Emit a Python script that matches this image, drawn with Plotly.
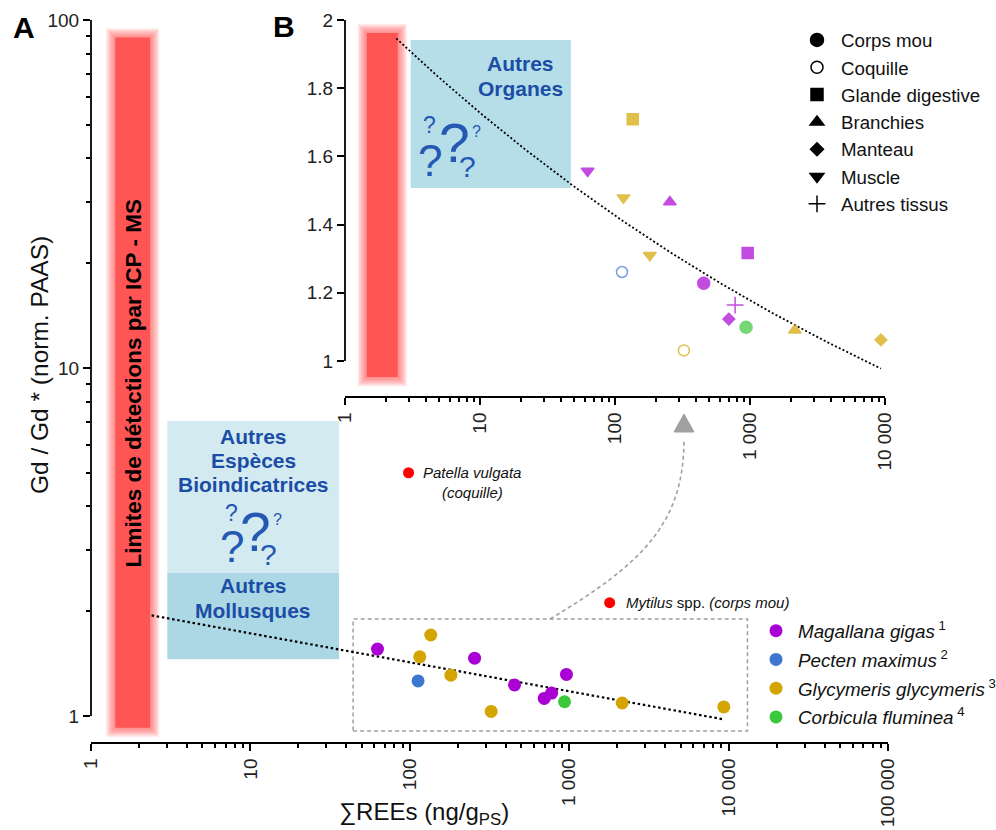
import numpy as np
import plotly.graph_objects as go

FONT = "Liberation Sans, Arial, sans-serif"

# ---------------- data ----------------
ree_total = [62.7, 135.4, 115.5, 112.7, 181, 255, 324, 454, 697, 776, 935, 961, 2150, 9330]
gd_anomaly = [1.557, 1.709, 1.479, 1.261, 1.31, 1.466, 1.031, 1.228, 1.123, 1.164, 1.099, 1.317, 1.09, 1.062]
species = ["Magallana gigas", "Glycymeris glycymeris", "Glycymeris glycymeris", "Pecten maximus",
           "Glycymeris glycymeris", "Magallana gigas", "Glycymeris glycymeris", "Magallana gigas",
           "Magallana gigas", "Magallana gigas", "Corbicula fluminea", "Magallana gigas",
           "Glycymeris glycymeris", "Glycymeris glycymeris"]
tissue = ["Muscle", "Glande digestive", "Muscle", "Coquille", "Muscle", "Branchies", "Coquille",
          "Corps mou", "Manteau", "Autres tissus", "Corps mou", "Glande digestive", "Branchies", "Manteau"]

species_order = ["Magallana gigas", "Pecten maximus", "Glycymeris glycymeris", "Corbicula fluminea"]
species_refs = ["1", "2", "3", "4"]
tissue_order = ["Corps mou", "Coquille", "Glande digestive", "Branchies", "Manteau", "Muscle", "Autres tissus"]

other_names = ["Patella vulgata", "Mytilus spp."]
other_ree = [98.2, 1794]
other_gd = [5.0, 2.116]

xA_ticks = [1, 10, 100, 1000, 10000, 100000]
xA_labels = ["1", "10", "100", "1 000", "10 000", "100 000"]
yA_ticks = [1, 10, 100]
yA_labels = ["1", "10", "100"]
xB_ticks = [1, 10, 100, 1000, 10000]
xB_labels = ["1", "10", "100", "1 000", "10 000"]
yB_ticks = [1, 1.2, 1.4, 1.6, 1.8, 2]
yB_labels = ["1", "1.2", "1.4", "1.6", "1.8", "2"]

# ---------------- styles ----------------
colors = {"Magallana gigas": "#A900D4", "Pecten maximus": "#3C76CF",
          "Glycymeris glycymeris": "#D4A500", "Corbicula fluminea": "#3CC83C"}
tissue_symbol = {"Corps mou": "circle", "Coquille": "circle-open", "Glande digestive": "square",
                 "Branchies": "triangle-up", "Manteau": "diamond", "Muscle": "triangle-down",
                 "Autres tissus": "cross-thin-open"}
tissue_size = {"Corps mou": 12, "Coquille": 11, "Glande digestive": 11, "Branchies": 11,
               "Manteau": 9, "Muscle": 11, "Autres tissus": 12}
legend_size = {"Corps mou": 13, "Coquille": 12, "Glande digestive": 12, "Branchies": 12,
               "Manteau": 10, "Muscle": 12, "Autres tissus": 12}
BOX_TXT = "#1B4DA6"
QM_COL = "#2458B2"

fig = go.Figure()

# trend (power-law fit on the data)
slope, intercept = np.polyfit(np.log10(ree_total), np.log10(gd_anomaly), 1)
tx = np.logspace(np.log10(2.4), np.log10(max(ree_total)), 100)
ty = 10 ** (intercept + slope * np.log10(tx))
fig.add_trace(go.Scatter(x=tx, y=ty, mode="lines", xaxis="x", yaxis="y", showlegend=False, hoverinfo="skip",
                         line=dict(color="black", width=2.2, dash="2.5px,2.7px")))
fig.add_trace(go.Scatter(x=tx, y=ty, mode="lines", xaxis="x2", yaxis="y2", showlegend=False, hoverinfo="skip",
                         line=dict(color="black", width=1.8, dash="2px,2.2px")))

for sp, ref in zip(species_order, species_refs):
    idx = [i for i, s in enumerate(species) if s == sp]
    xs = [ree_total[i] for i in idx]
    ys = [gd_anomaly[i] for i in idx]
    fig.add_trace(go.Scatter(
        x=xs, y=ys, mode="markers", xaxis="x", yaxis="y", cliponaxis=False,
        marker=dict(color=colors[sp], size=13),
        name=f"<i>{sp}</i><sup> {ref}</sup>", legend="legend2", legendgroup=sp))
    fig.add_trace(go.Scatter(
        x=xs, y=ys, mode="markers", xaxis="x2", yaxis="y2", cliponaxis=False, showlegend=False,
        marker=dict(color=colors[sp], symbol=[tissue_symbol[tissue[i]] for i in idx],
                    size=[tissue_size[tissue[i]] for i in idx],
                    line=dict(color=colors[sp], width=1.5))))

fig.add_trace(go.Scatter(x=other_ree, y=other_gd, mode="markers", xaxis="x", yaxis="y",
                         showlegend=False, marker=dict(color="#FF0000", size=11)))

for t in tissue_order:
    fig.add_trace(go.Scatter(
        x=[None], y=[None], mode="markers", xaxis="x2", yaxis="y2", name=t, legend="legend",
        marker=dict(symbol=tissue_symbol[t], color="black", size=legend_size[t],
                    line=dict(color="black", width=1.5))))

# ---------------- decorations ----------------
def soft_bar(x0, x1, y0, y1, xref, yref, gx, gy):
    for k in range(7, 0, -1):
        p = 1.3 * k
        fig.add_shape(type="rect", xref=xref, yref=yref, x0=gx(x0, -p), x1=gx(x1, p),
                      y0=gy(y0, -p), y1=gy(y1, p), fillcolor="rgba(255,85,85,0.13)",
                      line_width=0, layer="below")
    fig.add_shape(type="rect", xref=xref, yref=yref, x0=x0, x1=x1, y0=y0, y1=y1,
                  fillcolor="rgb(255,85,85)", line_width=0, layer="below")

soft_bar(1.42, 2.35, 0.925, 89, "x", "y",
         lambda v, p: v * 10 ** (p / 159.3), lambda v, p: v * 10 ** (p / 348))
soft_bar(1.45, 2.46, 0.953, 1.962, "x2", "y2",
         lambda v, p: v * 10 ** (p / 135.5), lambda v, p: v + p / 341)

# blue boxes
fig.add_shape(type="rect", xref="x", yref="y", x0=3.01, x1=36.0, y0=2.58, y1=7.04,
              fillcolor="#D3EAF1", line_width=0, layer="below")
fig.add_shape(type="rect", xref="x", yref="y", x0=3.01, x1=36.0, y0=1.455, y1=2.58,
              fillcolor="#ABD8E4", line_width=0, layer="below")
fig.add_shape(type="rect", xref="x2", yref="y2", x0=3.07, x1=47.1, y0=1.507, y1=1.941,
              fillcolor="#B5DEE9", line_width=0, layer="below")

# dashed zoom box + arrow
fig.add_shape(type="rect", xref="x", yref="y", x0=44.1, x1=13130, y0=0.906, y1=1.90,
              line=dict(color="#A0A0A0", width=1.5, dash="4px,3px"), fillcolor="rgba(0,0,0,0)",
              layer="below")
fig.add_shape(type="path", xref="paper", yref="paper",
              path="M 0.5522,0.2542 C 0.6426,0.3193 0.6867,0.3675 0.6867,0.4699",
              line=dict(color="#A0A0A0", width=1.6, dash="4px,3px"))
fig.add_shape(type="path", xref="paper", yref="paper",
              path="M 0.6867,0.5012 L 0.6767,0.4795 L 0.6968,0.4795 Z",
              fillcolor="#A0A0A0", line=dict(color="#A0A0A0", width=1))

# axis lines for the y axes (detached from x axes)
fig.add_shape(type="line", xref="x domain", yref="y", x0=0, x1=0, y0=1, y1=100,
              line=dict(color="black", width=1.8))
fig.add_shape(type="line", xref="x2 domain", yref="y2", x0=0, x1=0, y0=1, y1=2,
              line=dict(color="black", width=1.8))

ann = []
def A(text, x, y, size, xref="paper", yref="paper", bold=False, color="black", angle=0,
      xanchor="center", yanchor="middle", xshift=0, yshift=0):
    if bold:
        text = f"<b>{text}</b>"
    ann.append(dict(text=text, x=x, y=y, xref=xref, yref=yref, showarrow=False,
                    font=dict(size=size, color=color, family=FONT), textangle=angle,
                    xanchor=xanchor, yanchor=yanchor, xshift=xshift, yshift=yshift))

A("A", 0.0236, 0.9669, 30, bold=True)
A("B", 0.2856, 0.9678, 30, bold=True)
A("Gd / Gd * (norm. PAAS)", 0.0392, 0.5602, 24.5, angle=-90, color="#111")
A("∑REEs (ng/g<sub>PS</sub>)", 0.4262, 0.0200, 24, color="#111")
A("Limites de détections par ICP - MS", 0.2637, 0.9555, 22.5, xref="x", yref="y", bold=True, angle=-90)

# box labels
for t, yy in [("Autres", 0.8026), ("Espèces", 0.7336), ("Bioindicatrices", 0.6647),
              ("Autres", 0.3744), ("Mollusques", 0.3026)]:
    A(t, 1.017, yy, 21, xref="x", yref="y", bold=True, color=BOX_TXT)
for t, yy in [("Autres", 1.871), ("Organes", 1.7997)]:
    A(t, 1.30, yy, 21, xref="x2", yref="y2", bold=True, color=BOX_TXT)

# question-mark clusters
qm_sizes = [55, 44, 30, 23, 16]
qmA = [(1.0295, 0.5296), (0.8832, 0.4865), (1.1130, 0.4655), (0.8832, 0.5825), (1.1720, 0.5661)]
qmB = [(0.8118, 1.6384), (0.6273, 1.5894), (0.9100, 1.5698), (0.6273, 1.6921), (0.9720, 1.6724)]
for s, (qx, qy) in zip(qm_sizes, qmA):
    A("?", qx, qy, s, xref="x", yref="y", color=QM_COL)
for s, (qx, qy) in zip(qm_sizes, qmB):
    A("?", qx, qy, s, xref="x2", yref="y2", color=QM_COL)

# labels of the other species
A("<i>Patella vulgata</i>", np.log10(other_ree[0]), np.log10(other_gd[0]), 15, xref="x", yref="y",
  xanchor="left", xshift=12, color="#111")
A("<i>(coquille)</i>", np.log10(other_ree[0]), np.log10(other_gd[0]), 15, xref="x", yref="y",
  xanchor="center", xshift=64, yshift=-19.6, color="#111")
A("<i>Mytilus</i> spp. <i>(corps mou)</i>", np.log10(other_ree[1]), np.log10(other_gd[1]), 15,
  xref="x", yref="y", xanchor="left", xshift=14, color="#111")

tickfont = dict(size=19, color="#222", family=FONT)
common = dict(showgrid=False, zeroline=False, ticks="outside", tickcolor="black", tickwidth=1.5,
              ticklen=7, tickfont=tickfont, tickmode="array", automargin=False)
minor_log = dict(ticks="outside", ticklen=4, dtick="D1", tickcolor="black", tickwidth=1.5, showgrid=False)

fig.update_layout(
    width=996, height=830, autosize=False,
    margin=dict(l=0, r=0, t=0, b=0, pad=0, autoexpand=False),
    paper_bgcolor="white", plot_bgcolor="rgba(0,0,0,0)",
    font=dict(family=FONT, color="#111"),
    xaxis=dict(domain=[91 / 996, 888 / 996], type="log", range=[0, 5], anchor="y",
               showline=True, linecolor="black", linewidth=1.8,
               tickvals=xA_ticks, ticktext=xA_labels, tickangle=-90, minor=minor_log, **common),
    yaxis=dict(domain=[88 / 830, 810 / 830], type="log", range=[-0.0747, 2], anchor="x",
               showline=False, tickvals=yA_ticks, ticktext=yA_labels,
               minor=dict(ticks="outside", ticklen=4, tickmode="array", tickcolor="black", tickwidth=1.5,
                          tickvals=[m * 10 ** e for e in (0, 1) for m in range(2, 10)]), **common),
    xaxis2=dict(domain=[345 / 996, 885 / 996], type="log", range=[0, 4], anchor="y2",
                showline=True, linecolor="black", linewidth=1.8,
                tickvals=xB_ticks, ticktext=xB_labels, tickangle=-90, minor=minor_log, **common),
    yaxis2=dict(domain=[434 / 830, 810 / 830], range=[0.8974, 2], anchor="x2",
                showline=False, tickvals=yB_ticks, ticktext=yB_labels, **common),
    legend=dict(x=793 / 996, y=1 - 21.3 / 830, xanchor="left", yanchor="top",
                font=dict(size=18.7, color="#111", family=FONT), bgcolor="rgba(0,0,0,0)",
                itemwidth=38),
    legend2=dict(x=754 / 996, y=1 - 612 / 830, xanchor="left", yanchor="top",
                 font=dict(size=18.8, color="#111", family=FONT), bgcolor="rgba(0,0,0,0)",
                 itemwidth=34, traceorder="grouped", tracegroupgap=1.3),
    annotations=ann,
    showlegend=True,
)

fig.write_html("out.html", config={"displayModeBar": False},
               post_script="document.body.style.margin='0';")
